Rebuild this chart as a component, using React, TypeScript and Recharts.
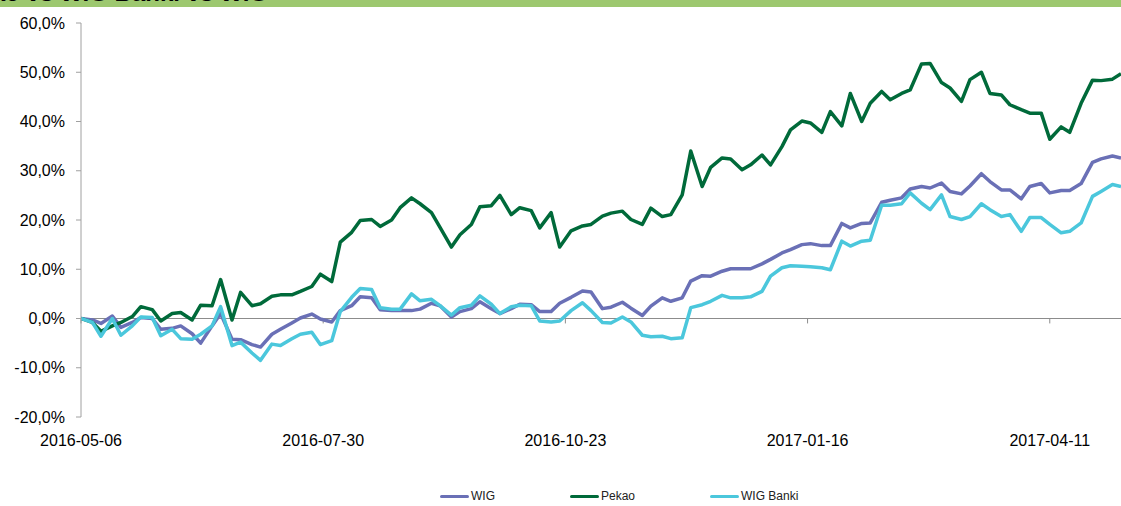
import { LineChart, Line, XAxis, YAxis, ReferenceLine } from "recharts";

// dzien 0 = 2016-05-06
const START = Date.UTC(2016, 4, 6);
const dayOffsets = Array.from({ length: 105 }, (_, i) => Math.round(i * 3.51));
const tickDays = [0, 85, 170, 255, 340];
const yTicks = [-20, -10, 0, 10, 20, 30, 40, 50, 60];
const seriesNames = ["WIG", "Pekao", "WIG Banki"];

const wig = [
  0, -0.3, -1.0, 0.5, -1.8, -0.8, 0.2, 0.0, -2.2, -2.0,
  -1.5, -3.1, -5.0, -1.5, 1.0, -4.2, -4.3, -5.3, -5.8, -3.2,
  -2.2, -0.9, 0.1, 0.9, -0.1, -0.7, 1.6, 2.6, 4.4, 4.2,
  1.8, 1.6, 1.6, 1.6, 1.9, 3.1, 2.6, 0.3, 1.4, 2.0,
  3.4, 2.0, 1.0, 2.0, 2.9, 2.8, 1.4, 1.4, 3.1, 4.3,
  5.6, 5.4, 2.0, 2.3, 3.3, 2.1, 0.6, 2.5, 4.2, 3.5,
  4.2, 7.6, 8.7, 8.6, 9.6, 10.1, 10.1, 10.1, 11.1, 12.0,
  13.3, 14.0, 15.0, 15.2, 14.8, 14.8, 19.3, 18.4, 19.3, 19.4,
  23.6, 24.0, 24.5, 26.3, 26.8, 26.5, 27.5, 25.8, 25.3, 26.9,
  29.4, 27.8, 26.1, 26.1, 24.3, 26.8, 27.4, 25.5, 26.0, 26.0,
  27.4, 31.7, 32.4, 33.0, 32.6,
];

const pekao = [
  0, -0.8, -2.6, -1.5, -0.8, 0.4, 2.4, 1.8, -0.5, 1.0,
  1.2, -0.3, 2.7, 2.6, 7.9, -0.3, 5.3, 2.6, 3.0, 4.5,
  4.8, 4.8, 5.5, 6.5, 9.0, 7.5, 15.5, 17.5, 19.9, 20.1,
  18.7, 20.0, 22.5, 24.5, 23.3, 21.5, 18.5, 14.5, 17.0, 19.1,
  22.7, 22.9, 25.0, 21.1, 22.5, 21.9, 18.4, 21.5, 14.5, 17.8,
  18.8, 19.1, 20.8, 21.4, 21.8, 20.1, 19.1, 22.4, 20.7, 21.1,
  25.1, 34.0, 26.8, 30.7, 32.6, 32.4, 30.2, 31.2, 33.2, 31.2,
  34.9, 38.3, 40.1, 39.7, 37.8, 42.0, 39.1, 45.7, 40.0, 43.7,
  46.1, 44.4, 45.7, 46.4, 51.7, 51.8, 47.9, 46.8, 44.1, 48.5,
  50.0, 45.7, 45.4, 43.4, 42.4, 41.7, 41.7, 36.4, 38.9, 37.8,
  43.7, 48.4, 48.3, 48.6, 49.7,
];

const wigBanki = [
  0, -0.8, -3.6, 0.0, -3.4, -1.5, 0.3, 0.2, -3.5, -2.2,
  -4.1, -4.2, -3.2, -1.5, 2.4, -5.5, -4.8, -7.0, -8.5, -5.2,
  -5.5, -4.1, -3.2, -2.8, -5.3, -4.5, 1.4, 4.3, 6.1, 5.9,
  2.2, 1.9, 1.9, 5.0, 3.6, 3.9, 2.6, 0.7, 2.2, 2.7,
  4.6, 2.9, 1.0, 2.4, 2.7, 2.6, -0.5, -0.7, -0.5, 1.6,
  3.2, 1.6, -0.8, -0.9, 0.3, -0.7, -3.4, -3.7, -3.6, -4.1,
  -3.9, 2.2, 2.8, 3.5, 4.7, 4.2, 4.2, 4.4, 5.5, 8.6,
  10.3, 10.7, 10.6, 10.5, 10.3, 9.9, 15.7, 14.7, 15.7, 15.9,
  23.0, 23.0, 23.3, 25.5, 23.4, 22.1, 25.1, 20.7, 20.1, 20.7,
  23.3, 22.1, 20.7, 21.1, 17.7, 20.5, 20.5, 19.1, 17.4, 17.7,
  19.4, 24.8, 25.8, 27.2, 26.8,
];

const COLORS: Record<string, string> = {
  WIG: "#6a70b6",
  Pekao: "#006a3a",
  "WIG Banki": "#4bc7dc",
};

const data = dayOffsets.map((day, i) => ({
  day,
  WIG: wig[i],
  Pekao: pekao[i],
  "WIG Banki": wigBanki[i],
}));

const fmtDate = (d: number) =>
  new Date(START + d * 86400000).toISOString().slice(0, 10);
const fmtPct = (v: number) => v.toFixed(1).replace(".", ",") + "%";

const FONT = "Arial, 'Liberation Sans', sans-serif";
const AXIS_GRAY = "#a0a0a0";

const App = () => {
  return (
    <div
      style={{
        position: "absolute",
        left: 0,
        top: 0,
        width: 1121,
        height: 506,
        background: "#fff",
        overflow: "hidden",
        fontFamily: FONT,
      }}
    >
      <div
        style={{
          position: "absolute",
          left: 0,
          top: 0,
          width: 1121,
          height: 7,
          background: "#9dc86f",
          overflow: "hidden",
        }}
      >
        <div
          style={{
            position: "absolute",
            right: 1121 - 268,
            top: -19,
            whiteSpace: "nowrap",
            fontWeight: 700,
            fontSize: 24,
            lineHeight: "24px",
            color: "#000",
          }}
        >
          Pekao vs WIG Banki vs WIG
        </div>
      </div>

      <LineChart
        width={1121}
        height={506}
        data={data}
        margin={{ top: 23, right: 0, bottom: 59, left: 0 }}
        style={{ position: "absolute", left: 0, top: 0 }}
      >
        <XAxis
          type="number"
          dataKey="day"
          domain={[0, 365]}
          ticks={tickDays}
          tickFormatter={fmtDate}
          interval={0}
          axisLine={false}
          tickLine={false}
          height={30}
          tickMargin={12}
          tick={{ fill: "#000", fontSize: 16, fontFamily: FONT }}
          allowDataOverflow
        />
        <YAxis
          domain={[-20, 60]}
          ticks={yTicks}
          tickFormatter={fmtPct}
          interval={0}
          width={81}
          tickSize={5}
          tickMargin={11}
          axisLine={{ stroke: AXIS_GRAY }}
          tickLine={{ stroke: AXIS_GRAY }}
          tick={{ fill: "#000", fontSize: 16, fontFamily: FONT }}
        />
        <ReferenceLine y={0} stroke="#8c8c8c" />
        {tickDays.map((d) => (
          <ReferenceLine
            key={d}
            segment={[
              { x: d, y: 0 },
              { x: d, y: -1 },
            ]}
            stroke="#8c8c8c"
          />
        ))}
        {seriesNames.map((name) => (
          <Line
            key={name}
            type="linear"
            dataKey={name}
            stroke={COLORS[name]}
            strokeWidth={3.5}
            strokeLinejoin="round"
            dot={false}
            isAnimationActive={false}
          />
        ))}
      </LineChart>

      <div
        style={{
          position: "absolute",
          left: 440,
          top: 489,
          display: "flex",
          alignItems: "center",
          fontSize: 12,
          color: "#222",
        }}
      >
        {seriesNames.map((name) => (
          <div
            key={name}
            style={{ display: "flex", alignItems: "center", marginRight: 75 }}
          >
            <span
              style={{
                display: "inline-block",
                width: 29,
                height: 3,
                borderRadius: 2,
                background: COLORS[name],
                marginRight: 2,
              }}
            />
            <span>{name}</span>
          </div>
        ))}
      </div>
    </div>
  );
};

export default App;
